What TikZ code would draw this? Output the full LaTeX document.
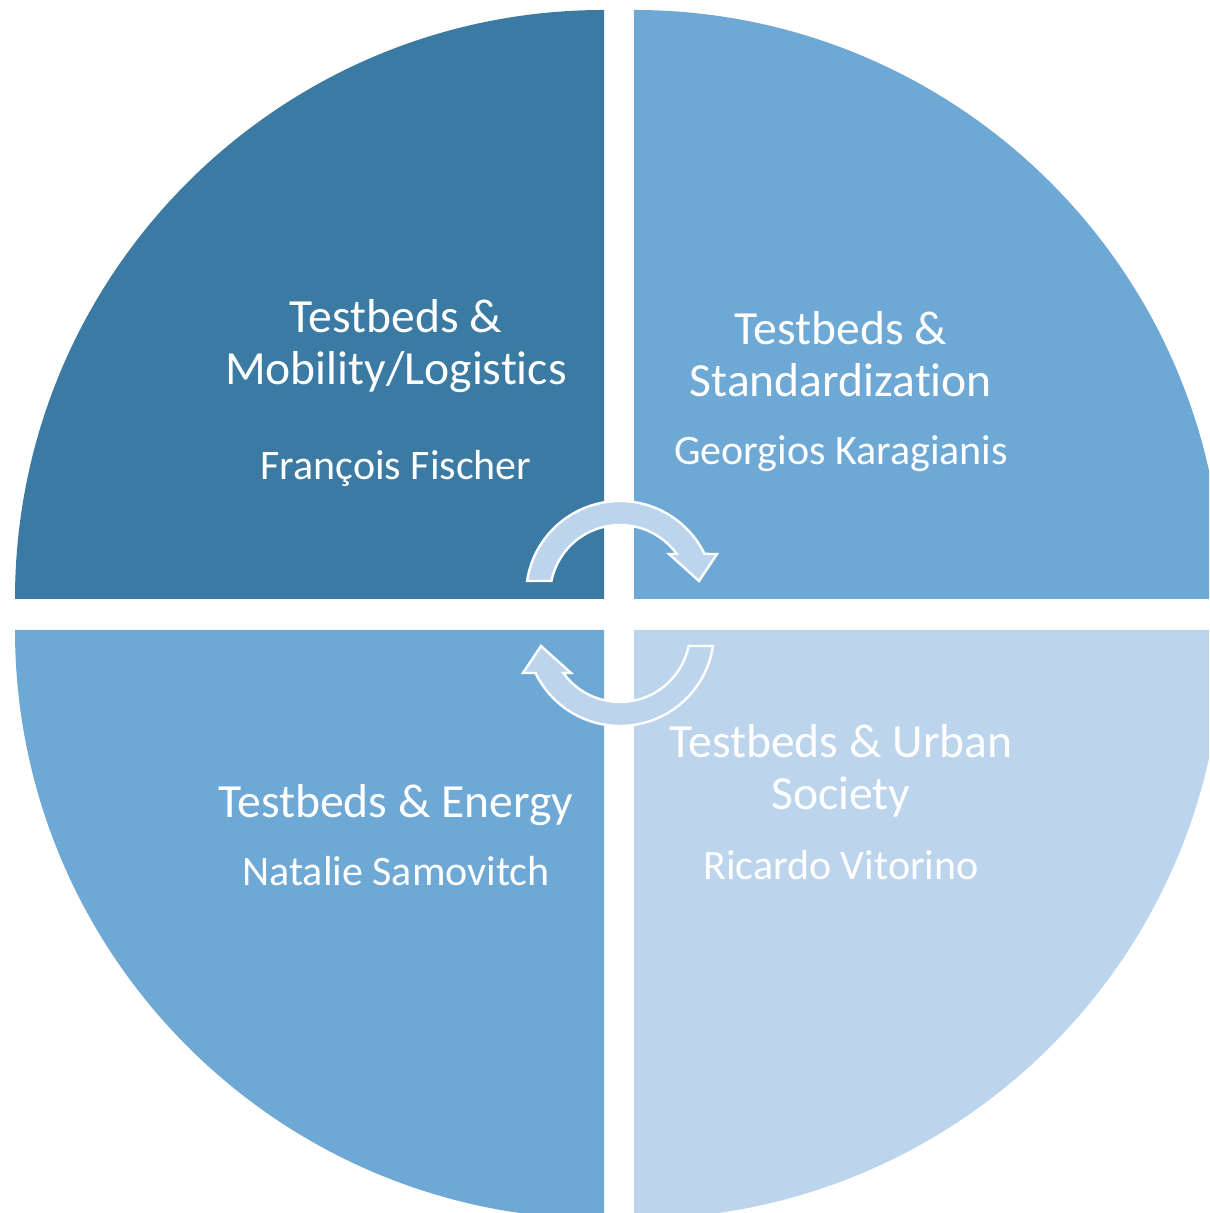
\documentclass[tikz,border=0pt]{standalone}
\usepackage{fontspec}
\setmainfont{Carlito}[Ligatures=NoCommon]
\usetikzlibrary{positioning}
\definecolor{quadDark}{HTML}{3A7AA3}
\definecolor{quadMid}{HTML}{6EA8D4}
\definecolor{quadLight}{HTML}{BCD5ED}
\tikzstyle{title} = [text=white, align=center, anchor=base, inner sep=0pt, font=\fontsize{23.8}{26}\selectfont]
\tikzstyle{person} = [text=white, align=center, anchor=base, inner sep=0pt, font=\fontsize{21}{25}\selectfont]
\tikzset{
	cyclearrow/.style = {fill=quadLight, draw=white, line width=1.2pt, line join=miter},
}

\begin{document}
\begin{tikzpicture}[x=0.5pt, y=0.5pt]
\useasboundingbox (0,0) rectangle (1209,1213);
\begin{scope}
\clip (0,0) rectangle (1209,1213);
% Placement of quadrants
\fill[quadDark]  (604,614) -- ++(-589,0) arc[start angle=180, end angle=90,  radius=589] -- cycle;
\fill[quadMid]   (634,614) -- ++(0,589)  arc[start angle=90,  end angle=0,   radius=589] -- cycle;
\fill[quadMid]   (604,583) -- ++(0,-589) arc[start angle=270, end angle=180, radius=589] -- cycle;
\fill[quadLight] (634,583) -- ++(589,0)  arc[start angle=0,   end angle=-90, radius=589] -- cycle;
\end{scope}

% Placement of arrows
\foreach \yc/\rot in {618/0, 581/180}{
	\path[cyclearrow, shift={(620,\yc)}, rotate=\rot]
		(171.4:94) arc[start angle=171.4, end angle=25.9, radius=94]
		-- (97,41) -- (79,14) -- (49,41) -- (35.9:70)
		arc[start angle=35.9, end angle=168.5, radius=70] -- cycle;
}

% Placement of texts (base = last line)
\node (mobTitle) [title] at (396,828) {Testbeds \&\\Mobility/Logistics};
\node (mobName) [person] at (396,733) {François Fischer};
\node (stdTitle) [title] at (841,816) {Testbeds \&\\Standardization};
\node (stdName) [person] at (841,748) {Georgios Karagianis};
\node (enTitle) [title] at (396,395) {Testbeds \& Energy};
\node (enName) [person] at (396,327) {Natalie Samovitch};
\node (urbTitle) [title] at (841,403) {Testbeds \& Urban\\Society};
\node (urbName) [person] at (841,333) {Ricardo Vitorino};
\end{tikzpicture}
\end{document}
